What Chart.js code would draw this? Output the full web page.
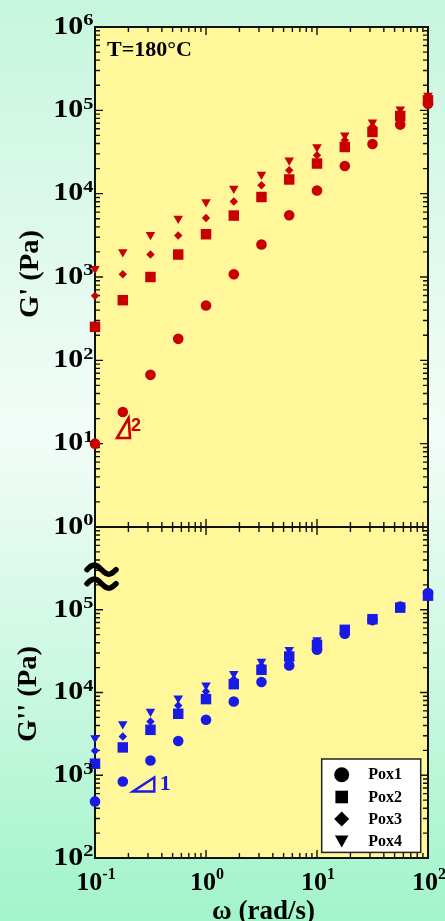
<!DOCTYPE html>
<html>
<head>
<meta charset="utf-8">
<script src="https://cdn.jsdelivr.net/npm/chart.js@4.4.1/dist/chart.umd.min.js"></script>
<style>
  html, body { margin: 0; padding: 0; }
  body {
    width: 445px; height: 921px; overflow: hidden; position: relative;
    background: linear-gradient(to bottom, #c6f6de 0%, #f3fcf8 47%, #a2f4cb 100%);
  }
  canvas { position: absolute; left: 0; top: 0; width: 445px; height: 921px; }
</style>
</head>
<body>
<canvas id="storage" width="445" height="921"></canvas>
<canvas id="loss" width="445" height="921"></canvas>
<script>
// frequency, rad/s
const omega = [0.1, 0.178, 0.316, 0.562, 1, 1.78, 3.16, 5.62, 10, 17.8, 31.6, 56.2, 100];
const seriesNames = ['Pox1', 'Pox2', 'Pox3', 'Pox4'];

// G' (Pa)
const gStorePox1 = [10, 24, 67, 181, 455, 1080, 2450, 5500, 10900, 21500, 39400, 67400, 120000];
const gStorePox2 = [252, 527, 1000, 1860, 3260, 5460, 9120, 14800, 23000, 36300, 55000, 85500, 132000];
const gStorePox3 = [594, 1080, 1860, 3150, 5110, 8040, 12600, 19100, 28900, 43700, 64000, 91000, 144000];
const gStorePox4 = [1260, 2000, 3220, 5020, 7960, 11500, 17000, 25100, 36300, 50200, 72000, 103000, 151000];

// G'' (Pa)
const gLossPox1 = [483, 841, 1510, 2590, 4680, 7790, 13400, 21200, 32800, 51200, 75000, 109000, 159000];
const gLossPox2 = [1380, 2170, 3540, 5530, 8320, 12600, 18800, 27200, 37700, 57200, 76900, 106000, 148000];
const gLossPox3 = [1980, 2940, 4470, 6960, 10300, 14500, 21000, 28500, 41300, 58300, 78000, 108000, 155000];
const gLossPox4 = [2810, 4150, 5900, 8550, 12200, 16800, 23700, 32800, 43200, 60000, 80000, 110000, 160000];

// tick labels (powers of ten)
const xTickExps = [-1, 0, 1, 2];
const yTickExpsTop = [0, 1, 2, 3, 4, 5, 6];
const yTickExpsBottom = [2, 3, 4, 5];

const markers = ['circle', 'rect', 'rectRot', 'triangle'];
const markerRot = [0, 0, 0, 180];
const markerSize = [5.3, 7.4, 4.2, 5.5];
const SERIF = '"Liberation Serif", "Times New Roman", serif';

function powLabel(ctx, exp, x, y, big, small, sx, align, supDy) {
  ctx.save();
  ctx.font = 'bold ' + big + 'px ' + SERIF;
  const w1 = ctx.measureText('10').width * sx;
  ctx.font = 'bold ' + small + 'px ' + SERIF;
  const w2 = ctx.measureText(String(exp)).width * sx;
  let x0 = align === 'right' ? x - w1 - w2 : x - (w1 + w2) / 2;
  ctx.fillStyle = '#000';
  ctx.textBaseline = 'alphabetic';
  ctx.textAlign = 'left';
  ctx.translate(x0, 0);
  ctx.scale(sx, 1);
  ctx.font = 'bold ' + big + 'px ' + SERIF;
  ctx.fillText('10', 0, y);
  ctx.font = 'bold ' + small + 'px ' + SERIF;
  ctx.fillText(String(exp), w1 / sx, y - supDy);
  ctx.restore();
}

function logTicks(min, max) {
  const out = [];
  for (let e = Math.floor(Math.log10(min)); e <= Math.ceil(Math.log10(max)); e++) {
    for (let m = 1; m <= 9; m++) {
      const v = m * Math.pow(10, e);
      if (v >= min * 0.999 && v <= max * 1.001) out.push({ v: v, major: m === 1 });
    }
  }
  return out;
}

const frame = {
  id: 'frame',
  beforeDatasetsDraw(chart, args, opts) {
    const ctx = chart.ctx, a = chart.chartArea;
    const xs = chart.scales.x, ys = chart.scales.y;
    ctx.save();
    ctx.fillStyle = '#fff799';
    ctx.fillRect(a.left, a.top, a.right - a.left, a.bottom - a.top);
    ctx.strokeStyle = '#111';
    ctx.lineWidth = 1.4;
    ctx.beginPath();
    logTicks(xs.min, xs.max).forEach(t => {
      const px = xs.getPixelForValue(t.v), len = t.major ? 8 : 5;
      ctx.moveTo(px, a.top); ctx.lineTo(px, a.top + len);
      ctx.moveTo(px, a.bottom); ctx.lineTo(px, a.bottom - len);
    });
    logTicks(ys.min, ys.max).forEach(t => {
      const py = ys.getPixelForValue(t.v), len = t.major ? 8 : 5;
      ctx.moveTo(a.left, py); ctx.lineTo(a.left + len, py);
      ctx.moveTo(a.right, py); ctx.lineTo(a.right - len, py);
    });
    ctx.stroke();
    ctx.lineWidth = 2;
    ctx.strokeRect(a.left, a.top, a.right - a.left, a.bottom - a.top);
    ctx.restore();
  },
  afterDraw(chart, args, opts) {
    const ctx = chart.ctx, a = chart.chartArea;
    const xs = chart.scales.x, ys = chart.scales.y;
    // y tick labels
    opts.yExps.forEach(e => {
      const py = ys.getPixelForValue(Math.pow(10, e));
      powLabel(ctx, e, a.left - 1.5, py + 6.8, 25, 17, 1.2, 'right', 8.5);
    });
    // y title
    ctx.save();
    ctx.translate(opts.titleX, opts.titleY);
    ctx.rotate(-Math.PI / 2);
    ctx.scale(1.06, 1);
    ctx.font = 'bold 27px ' + SERIF;
    ctx.fillStyle = '#000';
    ctx.textAlign = 'center';
    ctx.textBaseline = 'middle';
    ctx.fillText(opts.yTitle, 0, 0);
    ctx.restore();

    if (opts.showX) {
      xTickExps.forEach(e => {
        const px = xs.getPixelForValue(Math.pow(10, e));
        powLabel(ctx, e, px + 1, a.bottom + 32, 26, 16, 1, 'center', 11.5);
      });
      ctx.save();
      ctx.font = 'bold 27px ' + SERIF;
      ctx.fillStyle = '#000';
      ctx.textAlign = 'center';
      ctx.textBaseline = 'alphabetic';
      ctx.fillText('\u03c9 (rad/s)', (a.left + a.right) / 2 + 2, a.bottom + 61);
      ctx.restore();
    }
    if (opts.draw) opts.draw(chart, ctx, a, xs, ys);
  }
};

function buildChart(id, seriesList, color, yMin, padding, frameOpts) {
  return new Chart(document.getElementById(id), {
    type: 'scatter',
    data: {
      datasets: seriesList.map((vals, i) => ({
        label: seriesNames[i],
        data: omega.map((w, j) => ({ x: w, y: vals[j] })),
        pointStyle: markers[i],
        rotation: markerRot[i],
        pointRadius: markerSize[i],
        pointHoverRadius: markerSize[i],
        backgroundColor: color,
        borderColor: color,
        borderWidth: 0,
        clip: false
      }))
    },
    options: {
      responsive: false,
      animation: false,
      events: [],
      layout: { padding: padding },
      plugins: { legend: { display: false }, tooltip: { enabled: false }, frame: frameOpts },
      scales: {
        x: { type: 'logarithmic', min: 0.1, max: 100, display: false },
        y: { type: 'logarithmic', min: yMin, max: 1e6, display: false }
      }
    },
    plugins: [frame]
  });
}

const RED = '#c80000';
const BLUE = '#1a1ae6';

buildChart('storage', [gStorePox1, gStorePox2, gStorePox3, gStorePox4], RED, 1,
  { left: 95, top: 27, right: 17, bottom: 394 },
  {
    yExps: yTickExpsTop, yTitle: "G' (Pa)", titleX: 31, titleY: 274, showX: false,
    draw(chart, ctx, a, xs, ys) {
      ctx.save();
      ctx.font = 'bold 22px ' + SERIF;
      ctx.fillStyle = '#000';
      ctx.fillText('T=180\u00b0C', a.left + 12, a.top + 29);
      // slope 2 marker
      const bx = xs.getPixelForValue(0.158), by = ys.getPixelForValue(11.7);
      ctx.strokeStyle = RED;
      ctx.lineWidth = 2.6;
      ctx.lineJoin = 'miter';
      ctx.beginPath();
      ctx.moveTo(bx, by); ctx.lineTo(bx + 11.5, by - 20); ctx.lineTo(bx + 13, by); ctx.closePath();
      ctx.stroke();
      ctx.fillStyle = RED;
      ctx.font = 'bold 18px "Liberation Sans", Arial, sans-serif';
      ctx.fillText('2', bx + 14, by - 7);
      ctx.restore();
    }
  });

buildChart('loss', [gLossPox1, gLossPox2, gLossPox3, gLossPox4], BLUE, 100,
  { left: 95, top: 527, right: 17, bottom: 63 },
  {
    yExps: yTickExpsBottom, yTitle: "G'' (Pa)", titleX: 29, titleY: 694, showX: true,
    draw(chart, ctx, a, xs, ys) {
      ctx.save();
      // slope 1 marker
      const bx = xs.getPixelForValue(0.219), by = ys.getPixelForValue(637);
      ctx.strokeStyle = BLUE;
      ctx.lineWidth = 2.4;
      ctx.beginPath();
      ctx.moveTo(bx, by); ctx.lineTo(bx + 21.5, by - 14); ctx.lineTo(bx + 21.5, by); ctx.closePath();
      ctx.stroke();
      ctx.fillStyle = BLUE;
      ctx.font = 'bold 22px ' + SERIF;
      ctx.fillText('1', bx + 27, by - 1);

      // axis break mark
      const cy = ys.getPixelForValue(Math.pow(10, 5.4));
      ctx.strokeStyle = '#000';
      ctx.lineWidth = 5.5;
      ctx.lineCap = 'round';
      [-7, 7].forEach(off => {
        ctx.beginPath();
        for (let t = 0; t <= 1.0001; t += 0.05) {
          const px = a.left - 8 + t * 29;
          const py = cy + off - 4.5 * Math.sin(2 * Math.PI * t);
          if (t === 0) ctx.moveTo(px, py); else ctx.lineTo(px, py);
        }
        ctx.stroke();
      });

      // legend
      const lx = a.right - 106.3, ly = a.bottom - 99, lw = 99, lh = 93.4;
      ctx.lineCap = 'butt';
      ctx.fillStyle = '#fff';
      ctx.fillRect(lx, ly, lw, lh);
      ctx.strokeStyle = '#222';
      ctx.lineWidth = 1.5;
      ctx.strokeRect(lx, ly, lw, lh);
      const rowY = [15.7, 38, 60, 82];
      ctx.fillStyle = '#000';
      seriesNames.forEach((name, i) => {
        const sx = lx + 20, sy = ly + rowY[i];
        ctx.beginPath();
        if (markers[i] === 'circle') {
          ctx.arc(sx, sy, 7.5, 0, Math.PI * 2);
        } else if (markers[i] === 'rect') {
          ctx.rect(sx - 6.3, sy - 6.3, 12.6, 12.6);
        } else if (markers[i] === 'rectRot') {
          ctx.moveTo(sx, sy - 7.5); ctx.lineTo(sx + 7.5, sy); ctx.lineTo(sx, sy + 7.5); ctx.lineTo(sx - 7.5, sy);
        } else {
          ctx.moveTo(sx - 6.8, sy - 5.5); ctx.lineTo(sx + 6.8, sy - 5.5); ctx.lineTo(sx, sy + 6.5);
        }
        ctx.closePath();
        ctx.fill();
        ctx.font = 'bold 16px ' + SERIF;
        ctx.textBaseline = 'middle';
        ctx.fillText(name, lx + 46.6, sy + 0.5);
      });
      ctx.restore();
    }
  });
</script>
</body>
</html>
